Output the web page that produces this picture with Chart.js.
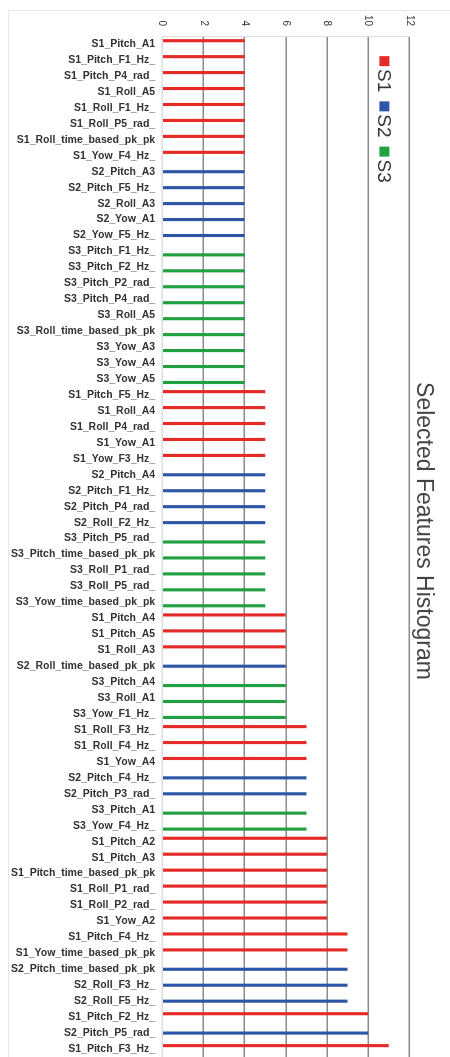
<!DOCTYPE html>
<html lang="en">
<head>
  <meta charset="UTF-8">
  <title>Selected Features Histogram</title>
  <script src="https://cdn.jsdelivr.net/npm/chart.js"></script>
  <style>
    html, body { margin: 0; padding: 0; background: #fff; overflow: hidden; width: 450px; height: 1057px; }
    #frame { position: absolute; left: 8px; top: 10px; width: 460px; height: 1100px; border: 1px solid #e6e6e6; }
    /* the chart is drawn as a column chart and turned a quarter turn clockwise */
    #wrap { position: absolute; left: 450px; top: 0; width: 1057px; height: 450px; transform-origin: 0 0; transform: rotate(90deg); }
  </style>
</head>
<body>
  <div id="frame"></div>
  <div id="wrap"><canvas id="chartCanvas" width="1057" height="450"></canvas></div>

  <script>
    const features = [
      "S1_Pitch_A1", "S1_Pitch_F1_Hz_", "S1_Pitch_P4_rad_", "S1_Roll_A5", "S1_Roll_F1_Hz_",
      "S1_Roll_P5_rad_", "S1_Roll_time_based_pk_pk", "S1_Yow_F4_Hz_", "S2_Pitch_A3", "S2_Pitch_F5_Hz_",
      "S2_Roll_A3", "S2_Yow_A1", "S2_Yow_F5_Hz_", "S3_Pitch_F1_Hz_", "S3_Pitch_F2_Hz_",
      "S3_Pitch_P2_rad_", "S3_Pitch_P4_rad_", "S3_Roll_A5", "S3_Roll_time_based_pk_pk", "S3_Yow_A3",
      "S3_Yow_A4", "S3_Yow_A5", "S1_Pitch_F5_Hz_", "S1_Roll_A4", "S1_Roll_P4_rad_",
      "S1_Yow_A1", "S1_Yow_F3_Hz_", "S2_Pitch_A4", "S2_Pitch_F1_Hz_", "S2_Pitch_P4_rad_",
      "S2_Roll_F2_Hz_", "S3_Pitch_P5_rad_", "S3_Pitch_time_based_pk_pk", "S3_Roll_P1_rad_", "S3_Roll_P5_rad_",
      "S3_Yow_time_based_pk_pk", "S1_Pitch_A4", "S1_Pitch_A5", "S1_Roll_A3", "S2_Roll_time_based_pk_pk",
      "S3_Pitch_A4", "S3_Roll_A1", "S3_Yow_F1_Hz_", "S1_Roll_F3_Hz_", "S1_Roll_F4_Hz_",
      "S1_Yow_A4", "S2_Pitch_F4_Hz_", "S2_Pitch_P3_rad_", "S3_Pitch_A1", "S3_Yow_F4_Hz_",
      "S1_Pitch_A2", "S1_Pitch_A3", "S1_Pitch_time_based_pk_pk", "S1_Roll_P1_rad_", "S1_Roll_P2_rad_",
      "S1_Yow_A2", "S1_Pitch_F4_Hz_", "S1_Yow_time_based_pk_pk", "S2_Pitch_time_based_pk_pk", "S2_Roll_F3_Hz_",
      "S2_Roll_F5_Hz_", "S1_Pitch_F2_Hz_", "S2_Pitch_P5_rad_", "S1_Pitch_F3_Hz_"
    ];
    const counts = [
      4, 4, 4, 4, 4, 4, 4, 4, 4, 4,
      4, 4, 4, 4, 4, 4, 4, 4, 4, 4,
      4, 4, 5, 5, 5, 5, 5, 5, 5, 5,
      5, 5, 5, 5, 5, 5, 6, 6, 6, 6,
      6, 6, 6, 7, 7, 7, 7, 7, 7, 7,
      8, 8, 8, 8, 8, 8, 9, 9, 9, 9,
      9, 10, 10, 11
    ];
    const sensors = ["S1", "S2", "S3"];
    const sensorColors = ["#e42b27", "#2d57a6", "#20a040"];
    const valueTicks = [0, 2, 4, 6, 8, 10, 12];

    const FONT = '"Liberation Sans", Arial, sans-serif';

    // one dataset per sensor, empty where the feature belongs to another sensor
    const datasets = sensors.map((s, k) => ({
      label: s,
      data: counts.map((v, i) => features[i].startsWith(s + "_") ? v : null),
      backgroundColor: sensorColors[k],
      borderWidth: 0,
      categoryPercentage: 0.64,
      barPercentage: 0.92
    }));

    // legend sits inside the plot, near the value axis end
    const insideLegend = {
      id: 'insideLegend',
      afterDraw(chart) {
        const { ctx, chartArea } = chart;
        ctx.save();
        ctx.font = '19px ' + FONT;
        ctx.textBaseline = 'middle';
        let x = chartArea.left + 20;
        const y = chartArea.top + 25;
        chart.data.datasets.forEach(ds => {
          ctx.fillStyle = ds.backgroundColor;
          ctx.fillRect(x, y - 5, 10, 10);
          ctx.fillStyle = '#333';
          ctx.fillText(ds.label, x + 13, y + 1);
          x += 13 + ctx.measureText(ds.label).width + 9;
        });
        ctx.restore();
      }
    };

    new Chart(document.getElementById("chartCanvas"), {
      type: 'bar',
      data: { labels: features, datasets },
      plugins: [insideLegend],
      options: {
        responsive: false,
        devicePixelRatio: 1,
        animation: false,
        layout: { padding: { left: 5, top: 13, right: 0, bottom: 4 } },
        plugins: {
          legend: { display: false },
          tooltip: { enabled: false },
          title: {
            display: true,
            text: 'Selected Features Histogram',
            color: '#444',
            font: { family: FONT, size: 23, weight: 'normal' },
            padding: 0
          }
        },
        scales: {
          x: {
            grid: { display: false, drawTicks: false },
            border: { color: '#ddd' },
            afterFit: axis => { axis.paddingLeft = 0; axis.paddingRight = 0; },
            ticks: {
              autoSkip: false,
              maxRotation: 90,
              minRotation: 90,
              padding: 7,
              color: '#333',
              font: { family: FONT, size: 10.5, weight: 'bold' }
            }
          },
          y: {
            min: valueTicks[0],
            max: valueTicks[valueTicks.length - 1],
            afterBuildTicks: axis => { axis.ticks = valueTicks.map(v => ({ value: v })); },
            grid: {
              drawTicks: false,
              lineWidth: 1.5,
              color: ctx => ctx.tick && ctx.tick.value === 0 ? '#ddd' : '#8c8c8c'
            },
            border: { color: '#ddd' },
            ticks: {
              padding: 10,
              color: '#333',
              font: { family: FONT, size: 10 }
            }
          }
        }
      }
    });
  </script>
</body>
</html>
